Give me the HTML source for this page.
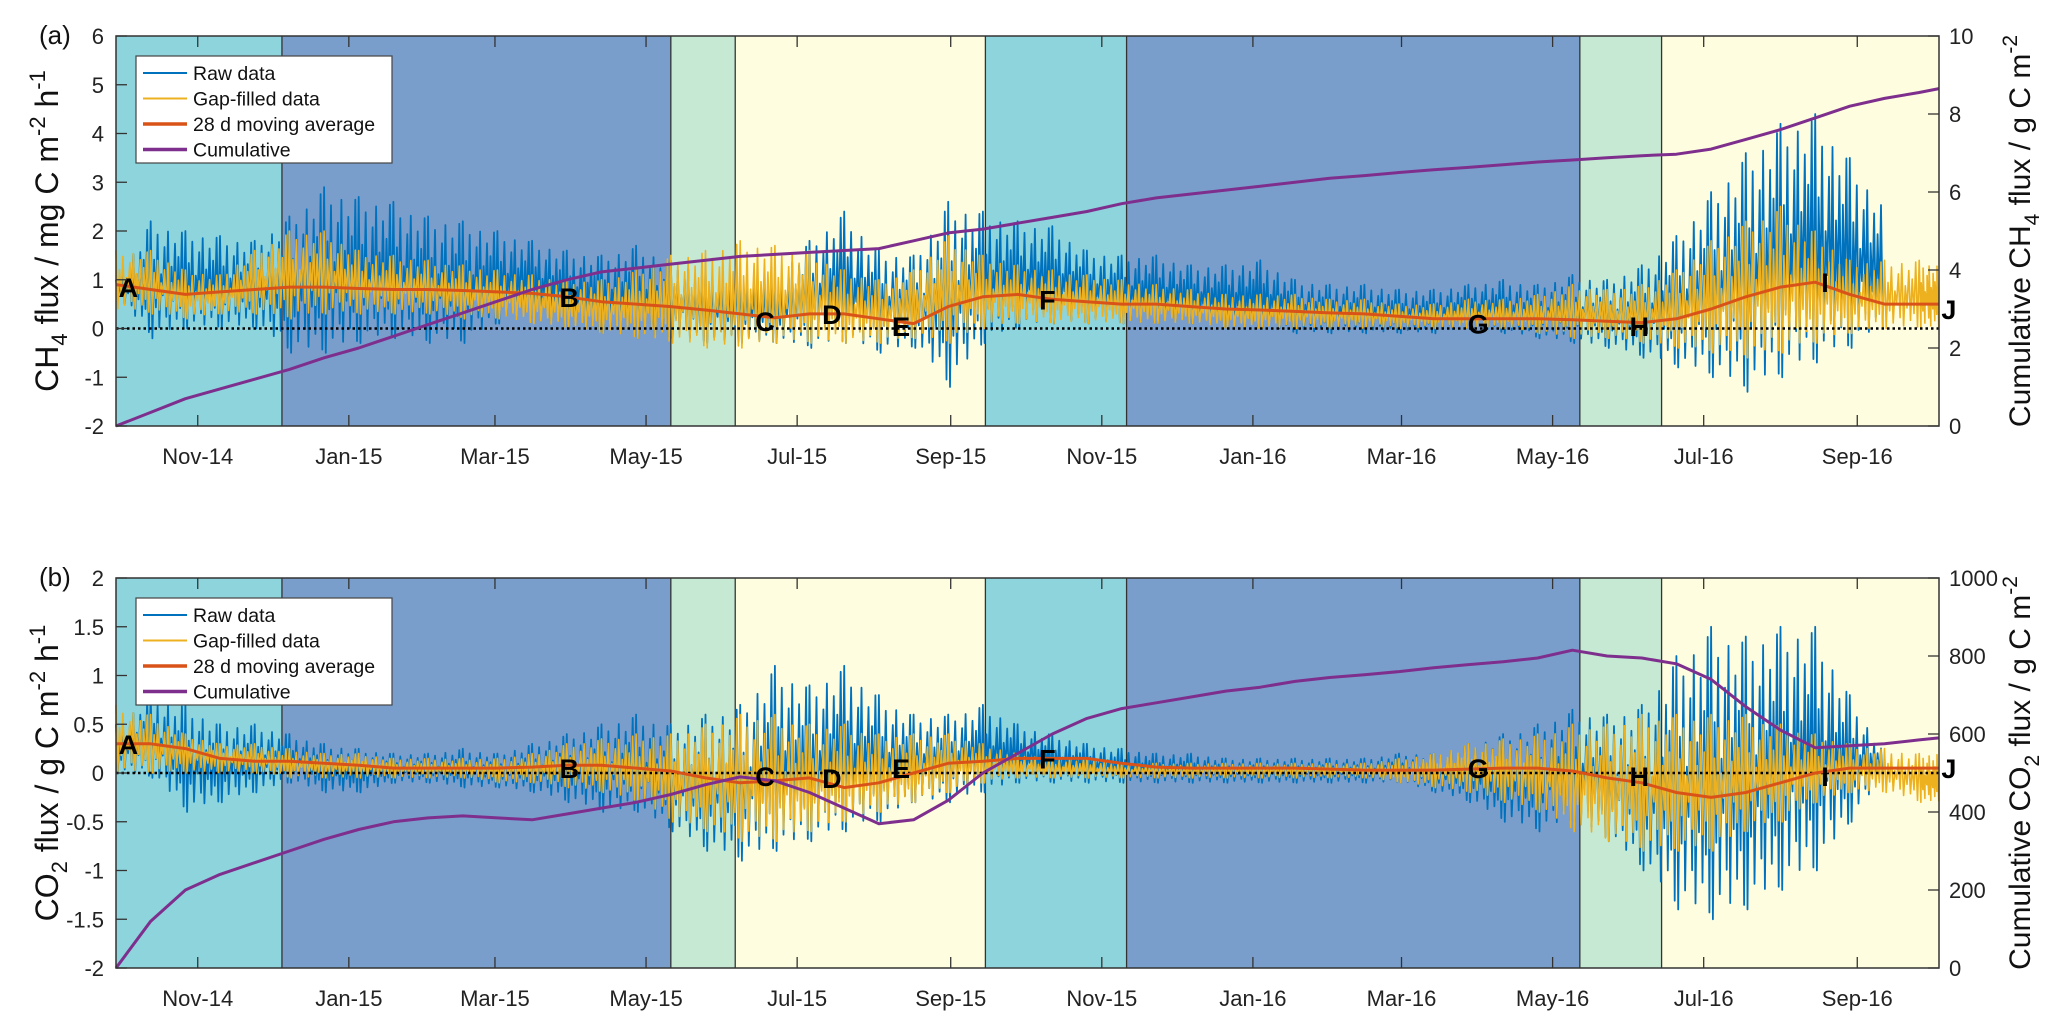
<!DOCTYPE html>
<html><head><meta charset="utf-8"><style>
html,body{margin:0;padding:0;background:#fff}
svg{display:block;font-family:"Liberation Sans",Arial,sans-serif}
</style></head><body>
<svg id="chart" width="2067" height="1015" viewBox="0 0 2067 1015" xmlns="http://www.w3.org/2000/svg"></svg>
<script>
// ---- data (biweekly samples, day index = i*14, last = 736) ----
const tickLabels = ["Nov-14","Jan-15","Mar-15","May-15","Jul-15","Sep-15","Nov-15","Jan-16","Mar-16","May-16","Jul-16","Sep-16"];
const tickDays = [33,94,153,214,275,337,398,459,519,580,641,703];
const seasonStart = [0,67,224,250,351,408,591,624];
const seasonKind = ["autumn","winter","spring","summer","autumn","winter","spring","summer"];
const pointLabels = ["A","B","C","D","E","F","G","H","I","J"];
const labelDays = [5,183,262,289,317,376,550,615,690,740];
const labelCH4 = [0.85,0.65,0.15,0.3,0.05,0.6,0.1,0.05,0.95,0.4];
const labelCO2 = [0.3,0.05,-0.03,-0.05,0.05,0.15,0.05,-0.03,-0.03,0.05];

const ch4RawHi = [1.0,2.2,2.0,1.9,1.8,2.3,2.9,2.7,2.6,2.3,2.2,2.0,1.8,1.6,1.5,1.7,1.4,1.2,1.2,1.1,1.8,2.4,1.6,1.5,2.6,2.4,2.2,2.1,1.6,1.5,1.5,1.3,1.3,1.4,1.0,0.9,0.9,0.8,0.8,0.9,1.0,0.9,1.1,1.0,1.3,1.9,2.8,3.6,4.2,4.4,3.5,2.5,null,null];
const ch4RawLo = [0.6,-0.2,0,0,0,-0.5,-0.5,-0.3,-0.2,-0.3,-0.3,0.1,0.2,0,-0.1,-0.2,-0.2,-0.3,-0.3,-0.3,-0.4,-0.3,-0.5,-0.4,-1.2,-0.3,0,0.1,0.1,0.1,0.1,0.1,0,0,-0.1,-0.1,-0.1,-0.1,-0.1,0,-0.1,-0.2,-0.3,-0.4,-0.6,-0.8,-1.0,-1.3,-1.0,-0.7,-0.4,0,null,null];
const ch4GapHi = [1.6,1.6,1.2,1.1,1.6,2.0,2.0,1.6,1.5,1.4,1.3,1.2,1.1,1.0,1.0,1.2,1.5,1.6,1.8,1.7,1.6,1.2,1.0,1.2,1.9,1.5,1.3,1.2,1.1,1.0,0.9,0.8,0.7,0.7,0.7,0.6,0.6,0.5,0.5,0.6,0.6,0.7,0.9,0.8,0.9,1.2,1.8,2.2,2.5,2.0,1.4,1.4,1.4,1.3];
const ch4GapLo = [0.4,0.3,0.2,0.3,0.3,0.2,0.3,0.3,0.3,0.3,0.2,0.2,0.1,0,-0.1,-0.2,-0.3,-0.4,-0.4,-0.3,-0.3,-0.3,-0.3,-0.2,-0.3,0,0.1,0.1,0.1,0.1,0.1,0.1,0,0,0,0,0,0,0,0,0,-0.1,-0.2,-0.2,-0.3,-0.4,-0.5,-0.6,-0.5,-0.3,-0.1,0,0,0];
const ch4MA = [0.9,0.8,0.7,0.75,0.8,0.85,0.85,0.82,0.8,0.8,0.78,0.75,0.72,0.65,0.55,0.5,0.45,0.38,0.3,0.22,0.3,0.3,0.2,0.1,0.45,0.65,0.7,0.6,0.55,0.5,0.5,0.45,0.4,0.38,0.35,0.32,0.3,0.25,0.2,0.2,0.2,0.2,0.18,0.15,0.12,0.2,0.4,0.65,0.85,0.95,0.7,0.5,0.5,0.5];
const ch4Cum = [0,0.35,0.7,0.95,1.2,1.45,1.75,2.0,2.3,2.6,2.9,3.2,3.5,3.75,3.95,4.05,4.15,4.25,4.35,4.4,4.45,4.5,4.55,4.75,4.95,5.05,5.2,5.35,5.5,5.7,5.85,5.95,6.05,6.15,6.25,6.35,6.42,6.5,6.57,6.63,6.7,6.77,6.82,6.88,6.93,6.97,7.1,7.35,7.6,7.9,8.2,8.4,8.55,8.65];

const co2RawHi = [0.5,0.8,0.7,0.5,0.5,0.4,0.3,0.25,0.2,0.2,0.25,0.2,0.3,0.4,0.5,0.6,0.5,0.6,0.7,1.1,0.9,1.1,0.8,0.6,0.6,0.7,0.5,0.4,0.3,0.25,0.2,0.2,0.15,0.15,0.15,0.15,0.15,0.2,0.2,0.3,0.4,0.5,0.65,0.6,0.7,1.2,1.5,1.4,1.5,1.5,0.8,0.2,null,null];
const co2RawLo = [0,-0.05,-0.4,-0.3,-0.2,-0.1,-0.2,-0.2,-0.1,-0.1,-0.15,-0.15,-0.2,-0.3,-0.4,-0.4,-0.6,-0.8,-0.9,-0.8,-0.7,-0.6,-0.5,-0.3,-0.3,-0.2,-0.1,-0.1,-0.1,-0.1,-0.1,-0.1,-0.1,-0.1,-0.1,-0.1,-0.1,-0.1,-0.2,-0.3,-0.5,-0.6,-0.5,-0.7,-1.0,-1.4,-1.5,-1.4,-1.2,-1.0,-0.5,0,null,null];
const co2GapHi = [0.7,0.6,0.4,0.3,0.3,0.25,0.2,0.2,0.15,0.15,0.15,0.15,0.2,0.3,0.35,0.4,0.4,0.5,0.6,0.6,0.5,0.5,0.4,0.4,0.4,0.3,0.2,0.15,0.15,0.1,0.1,0.1,0.1,0.1,0.1,0.1,0.1,0.15,0.2,0.3,0.35,0.4,0.5,0.5,0.6,0.6,0.6,0.6,0.5,0.4,0.3,0.25,0.2,0.2];
const co2GapLo = [0,0,0,0,0,-0.05,-0.05,-0.05,-0.05,-0.05,-0.05,-0.1,-0.1,-0.15,-0.2,-0.3,-0.5,-0.6,-0.7,-0.7,-0.6,-0.5,-0.4,-0.3,-0.2,-0.1,-0.05,-0.05,-0.05,-0.05,-0.05,-0.05,-0.05,-0.05,-0.05,-0.05,-0.05,-0.1,-0.15,-0.2,-0.3,-0.4,-0.6,-0.7,-0.8,-0.8,-0.8,-0.6,-0.5,-0.3,-0.2,-0.2,-0.3,-0.3];
const co2MA = [0.3,0.3,0.25,0.15,0.12,0.12,0.1,0.08,0.05,0.05,0.05,0.05,0.06,0.08,0.08,0.05,0.02,-0.05,-0.1,-0.08,-0.05,-0.15,-0.1,0,0.1,0.12,0.15,0.15,0.15,0.1,0.06,0.05,0.05,0.05,0.05,0.04,0.03,0.03,0.03,0.04,0.05,0.05,0.02,-0.05,-0.1,-0.2,-0.25,-0.2,-0.1,0,0.05,0.05,0.05,0.05];
const co2Cum = [0,120,200,240,270,300,330,355,375,385,390,385,380,395,410,425,445,470,490,480,450,410,370,380,430,500,550,600,640,665,680,695,710,720,735,745,752,760,770,778,785,795,815,800,795,780,740,670,610,565,570,575,585,590];

// ---- drawing ----
const svg = document.getElementById('chart');
const NS = 'http://www.w3.org/2000/svg';
const X0 = 116, X1 = 1939, DAYS = 736;
const xs = d => X0 + (d / DAYS) * (X1 - X0);
const sampleDay = i => Math.min(i * 14, DAYS);
const seasonColor = {autumn:'#8dd4dc', winter:'#7a9ecb', spring:'#c6e9d3', summer:'#fefddf'};

function mk(tag, attrs, parent) {
  const e = document.createElementNS(NS, tag);
  for (const k in attrs) e.setAttribute(k, attrs[k]);
  (parent || svg).appendChild(e);
  return e;
}

function zigzag(hi, lo, ys, color, width, name, parent) {
  let d = '';
  const K = 10;
  const fr = [1, 0.35, 0.8, 0.1, 0.6, 0.9, 0.25, 0.7, 0.45, 0.95];
  for (let i = 0; i < hi.length - 1; i++) {
    if (hi[i] == null || hi[i + 1] == null) continue;
    for (let k = 0; k < K; k++) {
      const t = k / K;
      const day = sampleDay(i) + t * (sampleDay(i + 1) - sampleDay(i));
      const h = hi[i] + t * (hi[i + 1] - hi[i]);
      const l = lo[i] + t * (lo[i + 1] - lo[i]);
      const m = (h + l) / 2;
      const frac = fr[k];
      const top = m + (h - m) * frac;
      const bot = l + (m - l) * (1 - frac) * 0.8;
      d += (d ? 'L' : 'M') + xs(day).toFixed(1) + ',' + ys(top).toFixed(1);
      d += 'L' + xs(day + 0.7).toFixed(1) + ',' + ys(bot).toFixed(1);
    }
  }
  const p = mk('path', {d: d, fill: 'none', stroke: color, 'stroke-width': width, 'stroke-linejoin': 'round'}, parent);
  
  
}

function line(vals, ys, color, width, name, parent) {
  const d = vals.map((v, i) => (i ? 'L' : 'M') + xs(sampleDay(i)).toFixed(1) + ',' + ys(v).toFixed(1)).join('');
  const p = mk('path', {d: d, fill: 'none', stroke: color, 'stroke-width': width, 'stroke-linejoin': 'round'}, parent);
  
  
}

function panel(cfg) {
  const g = mk('g', {});
  
  
  const Y0 = cfg.top, Y1 = cfg.bottom;
  const ys = v => Y1 - (v - cfg.ymin) / (cfg.ymax - cfg.ymin) * (Y1 - Y0);
  const yr = v => Y1 - (v - cfg.rmin) / (cfg.rmax - cfg.rmin) * (Y1 - Y0);
  seasonStart.forEach((s, i) => {
    const e = i + 1 < seasonStart.length ? seasonStart[i + 1] : DAYS;
    const r = mk('rect', {x: xs(s), y: Y0, width: xs(e) - xs(s), height: Y1 - Y0, fill: seasonColor[seasonKind[i]]}, g);
    
    
    if (i > 0) mk('line', {x1: xs(s), x2: xs(s), y1: Y0, y2: Y1, stroke: '#333', 'stroke-width': 1.3}, g);
  });
  tickDays.forEach((d, i) => {
    mk('line', {x1: xs(d), x2: xs(d), y1: Y1, y2: Y1 - 11, stroke: '#333', 'stroke-width': 1.3}, g);
    mk('line', {x1: xs(d), x2: xs(d), y1: Y0, y2: Y0 + 11, stroke: '#333', 'stroke-width': 1.3}, g);
    const t = mk('text', {x: xs(d), y: Y1 + 38, 'font-size': 22, 'text-anchor': 'middle', fill: '#222'}, g);
    t.textContent = tickLabels[i];
    
    
  });
  zigzag(cfg.rawHi, cfg.rawLo, ys, '#0072bd', 1.8, 'raw-data-series', g);
  zigzag(cfg.gapHi, cfg.gapLo, ys, '#edb120', 1.6, 'gap-filled-series', g);
  mk('line', {x1: X0, x2: X1, y1: ys(0), y2: ys(0), stroke: '#000', 'stroke-width': 2.5, 'stroke-dasharray': '2.5,3'}, g);
  line(cfg.ma, ys, '#d95319', 3, 'moving-average-line', g);
  line(cfg.cum, yr, '#7e2f8e', 3, 'cumulative-line', g);
  pointLabels.forEach((L, i) => {
    const t = mk('text', {x: xs(labelDays[i]), y: ys(cfg.labelY[i]) + 10, 'font-size': 27, 'font-weight': 'bold', 'text-anchor': 'middle', fill: '#000'}, g);
    t.textContent = L;
    
    
  });
  mk('rect', {x: X0, y: Y0, width: X1 - X0, height: Y1 - Y0, fill: 'none', stroke: '#333', 'stroke-width': 1.5}, g);
  cfg.yticks.forEach(v => {
    mk('line', {x1: X0, x2: X0 + 11, y1: ys(v), y2: ys(v), stroke: '#333', 'stroke-width': 1.3}, g);
    const t = mk('text', {x: X0 - 12, y: ys(v) + 8, 'font-size': 22, 'text-anchor': 'end', fill: '#222'}, g);
    t.textContent = v;
    
    
  });
  cfg.rticks.forEach(v => {
    mk('line', {x1: X1, x2: X1 - 11, y1: yr(v), y2: yr(v), stroke: '#333', 'stroke-width': 1.3}, g);
    const t = mk('text', {x: X1 + 10, y: yr(v) + 8, 'font-size': 22, 'text-anchor': 'start', fill: '#222'}, g);
    t.textContent = v;
    
    
  });
  const pl = mk('text', {x: 39, y: Y0 + 8, 'font-size': 26, fill: '#111'}, g);
  pl.textContent = cfg.letter;
  
  
  const cy = (Y0 + Y1) / 2;
  const lt = mk('text', {x: 0, y: 0, 'font-size': 32, 'text-anchor': 'middle', fill: '#111', transform: 'translate(58,' + cy + ') rotate(-90)'}, g);
  lt.innerHTML = cfg.leftTitle;
  
  
  const rt = mk('text', {x: 0, y: 0, 'font-size': 30, 'text-anchor': 'middle', fill: '#111', transform: 'translate(2030,' + cy + ') rotate(-90)'}, g);
  rt.innerHTML = cfg.rightTitle;
  
  
  const lg = mk('g', {}, g);
  
  
  const ly = Y0 + 20;
  mk('rect', {x: 136, y: ly, width: 256, height: 107, fill: '#fff', stroke: '#444', 'stroke-width': 1.2}, lg);
  const items = [['Raw  data', '#0072bd', 2], ['Gap-filled data', '#edb120', 2], ['28 d  moving average', '#d95319', 3.5], ['Cumulative', '#7e2f8e', 3.5]];
  items.forEach((it, i) => {
    const yy = ly + 17 + i * 25.5;
    const ln = mk('line', {x1: 143, x2: 187, y1: yy, y2: yy, stroke: it[1], 'stroke-width': it[2]}, lg);
    
    
    const t = mk('text', {x: 193, y: yy + 7, 'font-size': 19.5, fill: '#111'}, lg);
    t.textContent = it[0];
    
    
  });
}

panel({name: 'panel-a-ch4', letter: '(a)', top: 36, bottom: 426, ymin: -2, ymax: 6, rmin: 0, rmax: 10,
  yticks: [-2, -1, 0, 1, 2, 3, 4, 5, 6], rticks: [0, 2, 4, 6, 8, 10],
  rawHi: ch4RawHi, rawLo: ch4RawLo, gapHi: ch4GapHi, gapLo: ch4GapLo, ma: ch4MA, cum: ch4Cum, labelY: labelCH4,
  leftTitle: 'CH<tspan font-size="22" dy="9">4</tspan><tspan dy="-9"> flux / mg C m</tspan><tspan font-size="22" dy="-13">-2</tspan><tspan dy="13"> h</tspan><tspan font-size="22" dy="-13">-1</tspan>',
  rightTitle: 'Cumulative CH<tspan font-size="21" dy="9">4</tspan><tspan dy="-9">  flux / g C m</tspan><tspan font-size="21" dy="-13">-2</tspan>'});

panel({name: 'panel-b-co2', letter: '(b)', top: 578, bottom: 968, ymin: -2, ymax: 2, rmin: 0, rmax: 1000,
  yticks: [-2, -1.5, -1, -0.5, 0, 0.5, 1, 1.5, 2], rticks: [0, 200, 400, 600, 800, 1000],
  rawHi: co2RawHi, rawLo: co2RawLo, gapHi: co2GapHi, gapLo: co2GapLo, ma: co2MA, cum: co2Cum, labelY: labelCO2,
  leftTitle: 'CO<tspan font-size="22" dy="9">2</tspan><tspan dy="-9"> flux / g C m</tspan><tspan font-size="22" dy="-13">-2</tspan><tspan dy="13"> h</tspan><tspan font-size="22" dy="-13">-1</tspan>',
  rightTitle: 'Cumulative CO<tspan font-size="21" dy="9">2</tspan><tspan dy="-9">  flux / g C m</tspan><tspan font-size="21" dy="-13">-2</tspan>'});
</script>
</body></html>
